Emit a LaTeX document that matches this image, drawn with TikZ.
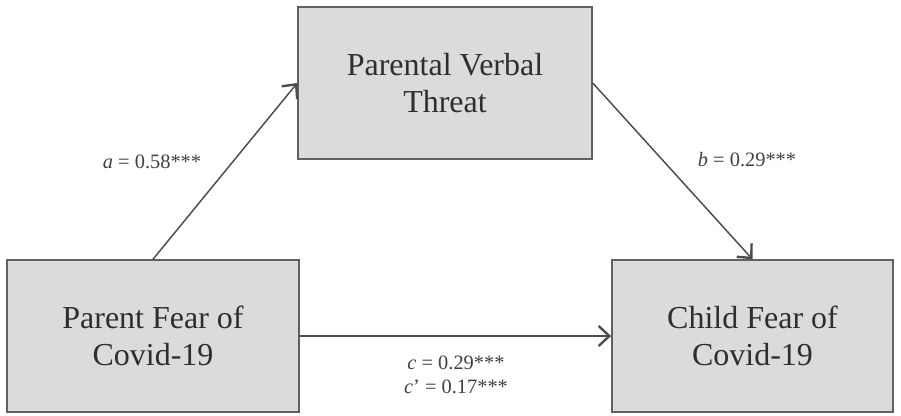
\documentclass[tikz,border=0pt]{standalone}
\usepackage{fontspec}
\setmainfont{Liberation Serif}
\usetikzlibrary{arrows.meta}

\begin{document}
\begin{tikzpicture}[x=0.75pt,y=-0.75pt,
		box/.style={rectangle,draw=black!62,line width=1.1pt,fill=black!14,
			text=black!82,align=center,minimum height=114pt,
			font=\fontsize{24}{28}\selectfont},
		path/.style={draw=black!70,line width=1.1pt,
			-{Straight Barb[length=8pt,width=15pt,line width=1.8pt]}},
		coef/.style={text=black!75,align=center,
			font=\fontsize{15.3}{18}\selectfont}]
		\useasboundingbox (0,0) rectangle (901,415);
		\node[box,minimum width=220.5pt] (threat) at (445,83) {Parental Verbal\\Threat};
		\node[box,minimum width=219pt] (parent) at (153,336) {Parent Fear of\\Covid-19};
		\node[box,minimum width=211pt] (child) at (752.5,336) {Child Fear of\\Covid-19};
		\draw[path] (parent.north) -- (threat.west);
		\draw[path] (threat.east) -- (child.north);
		\draw[path] (parent.east) -- (child.west);
		\node[coef] (pa) at (152,162) {\textit{a} = 0.58***};
		\node[coef] (pb) at (747,160) {\textit{b} = 0.29***};
		\node[coef] (pc) at (456,375) {\textit{c} = 0.29***\\\textit{c}' = 0.17***};
\end{tikzpicture}
\end{document}
